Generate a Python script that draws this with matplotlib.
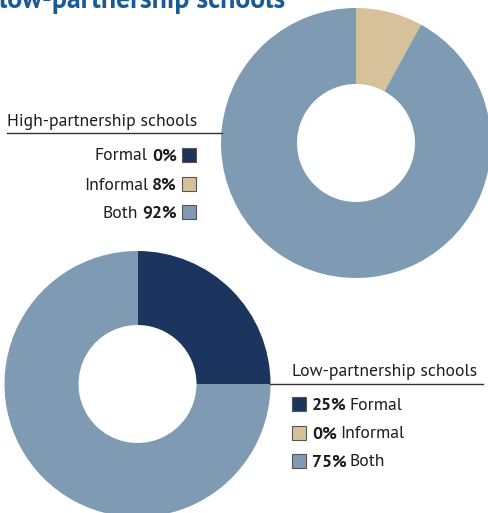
import matplotlib.pyplot as plt
from matplotlib.patches import Rectangle

## data

labels = ["Formal", "Informal", "Both"]
high_values = [0, 8, 92]
low_values = [25, 0, 75]
colors = ["#1c355e", "#d6c19b", "#7f9ab3"]

title_blue = "#1a5b97"
plt.rcParams['font.family'] = ['PT Sans', 'Lato', 'DejaVu Sans']

W, H = 488, 513
fig = plt.figure(figsize=(W / 100, H / 100), dpi=100)
ax = fig.add_axes([0, 0, 1, 1])

## donuts (y axis inverted -> counterclock in data looks clockwise on screen)

ax.pie(high_values, colors=colors, center=(356, 143), radius=135,
       startangle=-90, counterclock=True, wedgeprops=dict(width=76, linewidth=0), frame=True)
ax.pie(low_values, colors=colors, center=(137.5, 384), radius=133,
       startangle=-90, counterclock=True, wedgeprops=dict(width=74, linewidth=0), frame=True)
ax.set_xlim(0, W)
ax.set_ylim(H, 0)
ax.set_aspect('equal')
ax.axis('off')
renderer = fig.canvas.get_renderer()

## clipped heading at the top

ax.text(-1, 8.5, "low-partnership schools", fontsize=20, fontweight='bold',
        color=title_blue, ha='left', va='baseline')

## high-partnership legend (1 data unit = 1 pixel)

fs = 12.7
txt = '#1e1e1e'
ax.text(7, 125.5, "High-partnership schools", fontsize=fs, ha='left', va='baseline', color=txt)
ax.plot([7, 222], [133, 133], color='#333333', lw=1.0)
rows_high = [155, 184, 212]
for lab, val, col, y in zip(labels, high_values, colors, rows_high):
    ax.add_patch(Rectangle((182, y - 7), 13.5, 14, facecolor=col, edgecolor='#555555', lw=0.8))
    pct = ax.text(177, y + 5.5, f"{val}%", fontsize=fs, fontweight='bold', ha='right', va='baseline', color=txt)
    x0 = pct.get_window_extent(renderer).x0
    ax.text(x0 - 4.5, y + 5.5, lab, fontsize=fs, ha='right', va='baseline', color=txt)

## low-partnership legend

ax.text(292, 375.5, "Low-partnership schools", fontsize=fs, ha='left', va='baseline', color=txt)
ax.plot([270, 483], [384, 384], color='#333333', lw=1.0)
rows_low = [404, 433, 461]
for lab, val, col, y in zip(labels, low_values, colors, rows_low):
    ax.add_patch(Rectangle((292, y - 7), 14, 14, facecolor=col, edgecolor='#555555', lw=0.8))
    pct = ax.text(312, y + 5.5, f"{val}%", fontsize=fs, fontweight='bold', ha='left', va='baseline', color=txt)
    x1 = pct.get_window_extent(renderer).x1
    ax.text(x1 + 3, y + 5.5, lab, fontsize=fs, ha='left', va='baseline', color=txt)

fig.savefig("out.png", dpi=100)
